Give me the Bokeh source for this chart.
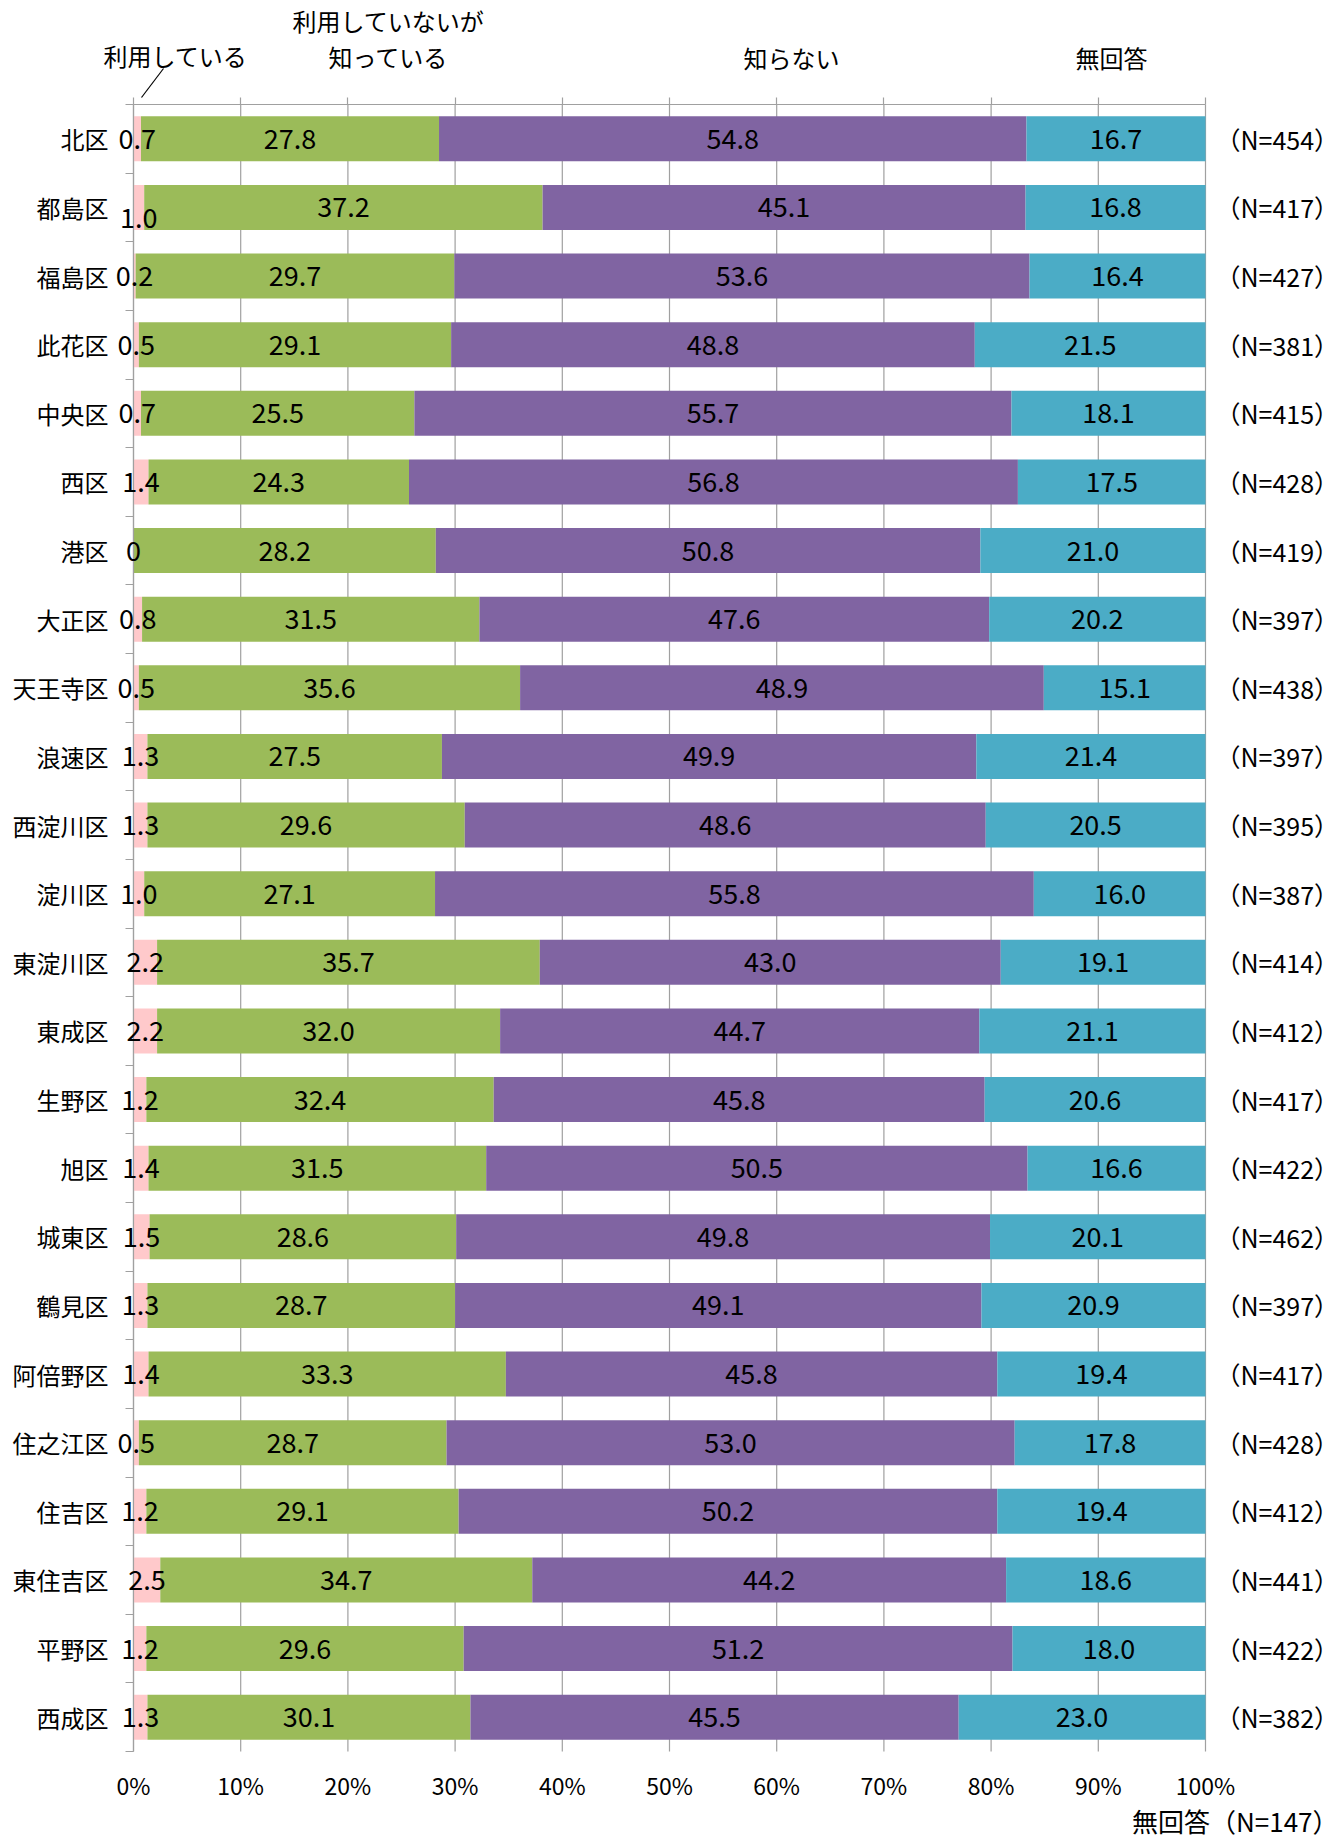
import numpy as np
from bokeh.plotting import figure
from bokeh.models import (ColumnDataSource, Range1d, FixedTicker, LinearAxis, LabelSet,
                          Label, Arrow, CustomJSTickFormatter)
from bokeh.core.properties import value
from bokeh.embed import file_html
from bokeh.resources import INLINE

districts = ["北区", "都島区", "福島区", "此花区", "中央区", "西区", "港区", "大正区", "天王寺区",
             "浪速区", "西淀川区", "淀川区", "東淀川区", "東成区", "生野区", "旭区", "城東区",
             "鶴見区", "阿倍野区", "住之江区", "住吉区", "東住吉区", "平野区", "西成区"]
using = [0.7, 1.0, 0.2, 0.5, 0.7, 1.4, 0.0, 0.8, 0.5, 1.3, 1.3, 1.0, 2.2, 2.2, 1.2, 1.4, 1.5,
         1.3, 1.4, 0.5, 1.2, 2.5, 1.2, 1.3]
aware = [27.8, 37.2, 29.7, 29.1, 25.5, 24.3, 28.2, 31.5, 35.6, 27.5, 29.6, 27.1, 35.7, 32.0,
         32.4, 31.5, 28.6, 28.7, 33.3, 28.7, 29.1, 34.7, 29.6, 30.1]
unaware = [54.8, 45.1, 53.6, 48.8, 55.7, 56.8, 50.8, 47.6, 48.9, 49.9, 48.6, 55.8, 43.0, 44.7,
           45.8, 50.5, 49.8, 49.1, 45.8, 53.0, 50.2, 44.2, 51.2, 45.5]
no_answer = [16.7, 16.8, 16.4, 21.5, 18.1, 17.5, 21.0, 20.2, 15.1, 21.4, 20.5, 16.0, 19.1, 21.1,
             20.6, 16.6, 20.1, 20.9, 19.4, 17.8, 19.4, 18.6, 18.0, 23.0]
n_counts = [454, 417, 427, 381, 415, 428, 419, 397, 438, 397, 395, 387, 414, 412, 417, 422, 462,
            397, 417, 428, 412, 441, 422, 382]
x_ticks = [0, 10, 20, 30, 40, 50, 60, 70, 80, 90, 100]
x_tick_labels = ["0%", "10%", "20%", "30%", "40%", "50%", "60%", "70%", "80%", "90%", "100%"]
series_names = ["利用している", "利用していないが", "知っている", "知らない", "無回答"]
no_answer_total = "無回答（N=147）"

colors = ["#FFC9CB", "#9BBB59", "#8064A2", "#4BACC6"]
GRID = "#A0A0A0"
FONT = "Noto Sans CJK JP"

# layout (pixels)
W, H = 1342, 1838
PX_L, PX_R = 133, 1205      # 0% and 100%
PY_T, PY_B = 104, 1751      # top of first category, bottom of last
NCAT = len(districts)
sx = (PX_R - PX_L) / 100.0
sy = (PY_B - PY_T) / NCAT

def X(px):
    return (px - PX_L) / sx

def Y(py):
    return (py - PY_T) / sy

series = [using, aware, unaware, no_answer]
vals = np.array(series, dtype=float)
totals = vals.sum(axis=0)
norm = vals / totals * 100.0
rights = np.cumsum(norm, axis=0)
lefts = rights - norm
centers = np.arange(NCAT) + 0.5

p = figure(width=W, height=H, x_range=Range1d(X(0), X(W)), y_range=Range1d(Y(H), Y(0)),
           output_backend="svg", toolbar_location=None,
           x_axis_location=None, y_axis_location=None,
           min_border_left=0, min_border_right=0, min_border_top=0, min_border_bottom=0)
p.outline_line_color = None
for g in p.grid:
    g.visible = False

# vertical gridlines
gsrc = ColumnDataSource(dict(x=x_ticks, y0=[0] * len(x_ticks), y1=[NCAT] * len(x_ticks)))
p.segment(x0="x", y0="y0", x1="x", y1="y1", source=gsrc, line_color=GRID, line_width=1.2,
          level="underlay")

# top value axis: line + outward ticks
top_axis = LinearAxis(fixed_location=0, bounds=(0, 100),
                      ticker=FixedTicker(ticks=x_ticks, minor_ticks=[]), axis_line_color=GRID,
                      axis_line_width=1.2, major_tick_line_color=GRID, major_tick_line_width=1.2,
                      major_tick_out=7, major_tick_in=0, minor_tick_out=0,
                      major_label_text_color=None, major_label_text_font_size="1px")
p.add_layout(top_axis, "above")

# bottom tick labels
bottom_axis = LinearAxis(fixed_location=NCAT, bounds=(0, 100),
                         ticker=FixedTicker(ticks=x_ticks, minor_ticks=[]), axis_line_color=None,
                         major_tick_line_color=None, minor_tick_line_color=None,
                         major_tick_out=0, major_tick_in=0,
                         major_label_overrides={t: l for t, l in zip(x_ticks, x_tick_labels)},
                         major_label_standoff=16, major_label_text_font=FONT,
                         major_label_text_font_size="23px", major_label_text_color="black")
p.add_layout(bottom_axis, "below")

# category axis
left_axis = LinearAxis(fixed_location=0, bounds=(0, NCAT),
                       ticker=FixedTicker(ticks=list(centers), minor_ticks=list(range(NCAT + 1))),
                       formatter=CustomJSTickFormatter(args=dict(names=districts),
                                                       code="return names[Math.floor(tick)] || '';"),
                       axis_line_color=GRID, axis_line_width=1.2,
                       major_tick_out=0, major_tick_in=0, major_tick_line_color=None,
                       minor_tick_out=8, minor_tick_in=0, minor_tick_line_color=GRID,
                       minor_tick_line_width=1.2,
                       major_label_standoff=17, major_label_text_font=FONT,
                       major_label_text_font_size="24px", major_label_text_color="black")
p.add_layout(left_axis, "left")

# N labels on the right
n_labels = [f"（N={n}）" for n in n_counts]
right_axis = LinearAxis(fixed_location=100, bounds=(0, NCAT),
                        ticker=FixedTicker(ticks=list(centers), minor_ticks=[]),
                        formatter=CustomJSTickFormatter(args=dict(names=n_labels),
                                                        code="return names[Math.floor(tick)] || '';"),
                        axis_line_color=None, major_tick_line_color=None,
                        minor_tick_line_color=None, major_tick_out=0, major_tick_in=0,
                        major_label_standoff=10, major_label_text_font=FONT,
                        major_label_text_font_size="25px", major_label_text_color="black")
p.add_layout(right_axis, "right")

bar_h = 45 / sy
for k in range(4):
    src = ColumnDataSource(dict(y=centers, left=lefts[k], right=rights[k]))
    p.hbar(y="y", left="left", right="right", height=bar_h, source=src,
           fill_color=colors[k], line_color=None)

for k in range(4):
    labels = [("0" if v == 0 else f"{v:.1f}") for v in series[k]]
    ys = list(centers)
    if k == 0:
        ys = [c + (0.15 if d == "都島区" else 0.0) for c, d in zip(centers, districts)]
    src = ColumnDataSource(dict(x=(lefts[k] + rights[k]) / 2, y=ys, t=labels))
    p.add_layout(LabelSet(x="x", y="y", text="t", source=src, text_align="center",
                          text_baseline="middle", text_font=value(FONT),
                          text_font_size=value("27px"), text_color="black"))

def hdr(text, px, py, align="center", size="24px"):
    p.add_layout(Label(x=X(px), y=Y(py), text=text, text_align=align, text_baseline="middle",
                       text_font=FONT, text_font_size=size, text_color="black"))

hdr(series_names[0], 175, 55)
hdr(series_names[1], 388, 20)
hdr(series_names[2], 388, 56)
hdr(series_names[3], 791, 57)
hdr(series_names[4], 1111, 57)
hdr(no_answer_total, 1338, 1820, align="right", size="26px")

p.add_layout(Arrow(end=None, x_start=X(163), y_start=Y(68), x_end=X(141), y_end=Y(97),
                   line_color="black", line_width=1.2))

open("out.html", "w").write(file_html(p, INLINE))
